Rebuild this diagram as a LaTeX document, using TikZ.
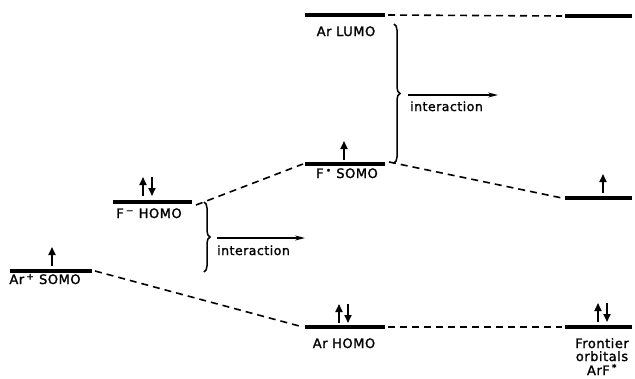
\documentclass[tikz,border=0pt]{standalone}
\usepackage{fontspec}
\setmainfont{DejaVu Sans}[LetterSpace=4,FakeBold=1.6]
\usetikzlibrary{arrows.meta,decorations.pathreplacing}
\begin{document}
\begin{tikzpicture}[x=1pt,y=-1pt,
  level/.style={line width=3.4pt},
  conn/.style={line width=1.6pt,dash pattern=on 7pt off 5pt},
  spin/.style={line width=1.8pt,-{Triangle[length=8pt,width=7pt]}},
  lab/.style={anchor=base,inner sep=0pt,font=\fontsize{13}{15}\selectfont},
  ilab/.style={anchor=base west,inner sep=0pt,font=\fontsize{12.5}{15}\selectfont},
  iarrow/.style={line width=1.4pt,-{Stealth[length=10pt,width=5pt]}},
  brc/.style={line width=1.5pt,decorate,decoration={brace,amplitude=6pt,aspect=0.5}}]
\useasboundingbox (0,0) rectangle (635,378);
% level end points
\coordinate (arpL) at (10,271);  \coordinate (arpR) at (92,271);
\coordinate (fmL) at (113,202);  \coordinate (fmR) at (192,202);
\coordinate (fsL) at (305,164);  \coordinate (fsR) at (385,164);
\coordinate (alL) at (305,15);   \coordinate (alR) at (385,15);
\coordinate (ahL) at (305,327);  \coordinate (ahR) at (385,327);
\coordinate (rlL) at (565,16);   \coordinate (rlR) at (632,16);
\coordinate (rsL) at (565,198);  \coordinate (rsR) at (632,198);
\coordinate (rhL) at (565,327);  \coordinate (rhR) at (632,327);
% levels
\foreach \a/\b in {arpL/arpR,fmL/fmR,fsL/fsR,alL/alR,ahL/ahR,rlL/rlR,rsL/rsR,rhL/rhR}
  \draw[level] (\a) -- (\b);
% dashed connectors
\draw[conn] ([xshift=3pt]arpR) -- ([xshift=-2pt]ahL);
\draw[conn] ([xshift=4pt,yshift=-3pt]fmR) -- ([xshift=-2pt]fsL);
\draw[conn] ([xshift=3pt]alR) -- ([xshift=-3pt]rlL);
\draw[conn] ([xshift=4pt,yshift=2pt]fsR) -- ([xshift=-3pt]rsL);
\draw[conn] ([xshift=3pt]ahR) -- ([xshift=-3pt]rhL);
% spin arrows
\coordinate (s1b) at (52,266); \coordinate (s1t) at (52,247);
\draw[spin] (s1b) -- (s1t);
\coordinate (s2b) at (143,196); \coordinate (s2t) at (143,177);
\draw[spin] (s2b) -- (s2t);
\coordinate (s3t) at (152,177); \coordinate (s3b) at (152,196);
\draw[spin] (s3t) -- (s3b);
\coordinate (s4b) at (344,160); \coordinate (s4t) at (344,141);
\draw[spin] (s4b) -- (s4t);
\coordinate (s5b) at (339,323); \coordinate (s5t) at (339,304);
\draw[spin] (s5b) -- (s5t);
\coordinate (s6t) at (348,304); \coordinate (s6b) at (348,323);
\draw[spin] (s6t) -- (s6b);
\coordinate (s7b) at (603,193); \coordinate (s7t) at (603,174);
\draw[spin] (s7b) -- (s7t);
\coordinate (s8b) at (598,322); \coordinate (s8t) at (598,303);
\draw[spin] (s8b) -- (s8t);
\coordinate (s9t) at (607,303); \coordinate (s9b) at (607,322);
\draw[spin] (s9t) -- (s9b);
% labels
\node[lab] (larp) at (45,284) {Ar\,\textsuperscript{+} SOMO};
\node[lab] (lfm) at (149,218) {F\,\textsuperscript{−} HOMO};
\node[lab] (lfs) at (347,178) {F\,\textsuperscript{•} SOMO};
\node[lab] (lal) at (346,36) {Ar LUMO};
\node[lab] (lah) at (344,348) {Ar HOMO};
\node[lab] (lf1) at (602,348) {Frontier};
\node[lab] (lf2) at (602,361) {orbitals};
\node[lab] (lf3) at (602,375) {ArF\,\textsuperscript{*}};
% braces and interaction arrows
\coordinate (b1t) at (204,202); \coordinate (b1b) at (204,272);
\draw[brc] (b1t) -- (b1b);
\coordinate (i1s) at (217,238); \coordinate (i1e) at (305,238);
\draw[iarrow] (i1s) -- (i1e);
\node[ilab] (li1) at (217,255) {interaction};
\coordinate (b2t) at (394,24); \coordinate (b2b) at (394,163);
\draw[brc] (b2t) -- (b2b);
\coordinate (i2s) at (408,95); \coordinate (i2e) at (498,95);
\draw[iarrow] (i2s) -- (i2e);
\node[ilab] (li2) at (410,111) {interaction};
\end{tikzpicture}
\end{document}
